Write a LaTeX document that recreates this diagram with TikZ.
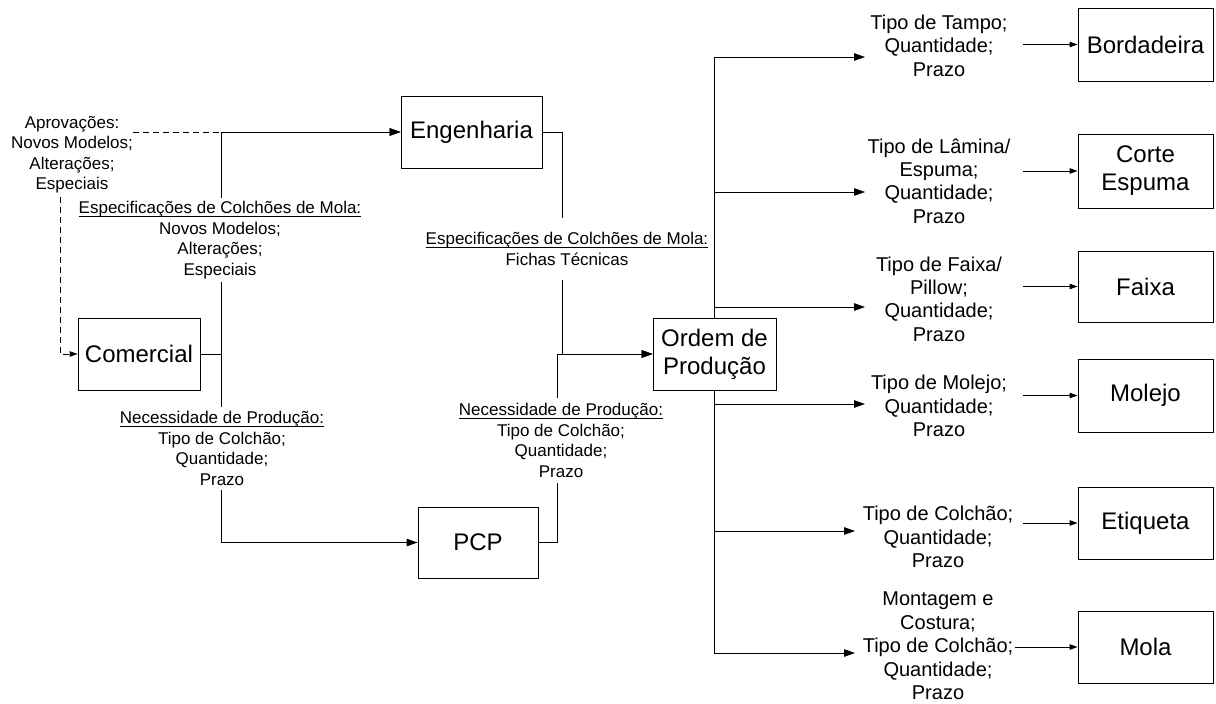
\documentclass[tikz,border=0pt]{standalone}
\usepackage{fontspec}
\setmainfont{Liberation Sans}
\usetikzlibrary{arrows.meta}
% underline set just below the baseline
\newcommand{\ulined}[1]{\setbox0\hbox{#1}\leavevmode\rlap{\rule[-3pt]{\wd0}{0.9pt}}\box0}
\begin{document}
\begin{tikzpicture}[x=1pt,y=-1pt,
  box/.style={draw=black, line width=0.9pt, fill=white, inner sep=0pt, align=center,
              font=\fontsize{24}{28}\selectfont},
  lab/.style={align=center, inner sep=0pt, fill=white, font=\fontsize{17}{20.5}\selectfont},
  rlab/.style={align=center, inner sep=0pt, font=\fontsize{20}{23.4}\selectfont},
  link/.style={line width=0.9pt},
  arr/.style={link, -{Triangle[length=11pt,width=7.5pt]}},
  sarr/.style={link, -{Triangle[length=8pt,width=5.5pt]}},
  dlink/.style={link, dash pattern=on 6pt off 4pt},
]
\useasboundingbox (0,0) rectangle (1216,704);

% departments on the left
\node[box, minimum width=141pt, minimum height=72pt] (eng) at (471.5,132) {Engenharia};
\node[box, minimum width=122pt, minimum height=72pt] (com) at (139,354) {Comercial};
\node[box, minimum width=120pt, minimum height=71pt] (pcp) at (478,542.5) {PCP};
\node[box, minimum width=123pt, minimum height=72pt] (op) at (714.5,354) {Ordem de\\Produção};

% sectors on the right
\node[box, minimum width=135pt, minimum height=73pt] (bor) at (1145.5,44.5) {Bordadeira};
\node[box, minimum width=135pt, minimum height=74pt] (cor) at (1145.5,171) {Corte\\Espuma};
\node[box, minimum width=135pt, minimum height=71pt] (fai) at (1145.5,286.5) {Faixa};
\node[box, minimum width=135pt, minimum height=73pt] (mol) at (1145.5,395.5) {Molejo};
\node[box, minimum width=135pt, minimum height=72pt] (eti) at (1145.5,523) {Etiqueta};
\node[box, minimum width=135pt, minimum height=72pt] (mla) at (1145.5,647) {Mola};

% approvals note
\node[lab, fill=none] (aprov) at (72,154.5) {Aprovações:\\Novos Modelos;\\Alterações;\\Especiais};

% order contents per sector
\node[rlab] (r1) at (939,45.5) {Tipo de Tampo;\\Quantidade;\\Prazo};
\node[rlab] (r2) at (939,181) {Tipo de Lâmina/\\Espuma;\\Quantidade;\\Prazo};
\node[rlab] (r3) at (939,299) {Tipo de Faixa/\\Pillow;\\Quantidade;\\Prazo};
\node[rlab] (r4) at (939,406) {Tipo de Molejo;\\Quantidade;\\Prazo};
\node[rlab] (r5) at (938,537) {Tipo de Colchão;\\Quantidade;\\Prazo};
\node[rlab] (r6) at (938,646) {Montagem e\\Costura;\\Tipo de Colchão;\\Quantidade;\\Prazo};

% arrow tips of the distribution bus
\coordinate (b1) at (865,57);
\coordinate (b2) at (865,192);
\coordinate (b3) at (865,307);
\coordinate (b4) at (865,404);
\coordinate (b5) at (855,531);
\coordinate (b6) at (855,653);

% starts of the short arrows into the sectors
\coordinate (s1) at (1023,44.5);
\coordinate (s2) at (1023,171);
\coordinate (s3) at (1023,286.5);
\coordinate (s4) at (1023,395.5);
\coordinate (s5) at (1023,523);
\coordinate (s6) at (1015,647);

% dashed approval paths
\coordinate (d0) at (60,197);
\draw[dlink, -{Triangle[length=11pt,width=7.5pt]}] (aprov.east |- eng.west) -- (eng.west);
\draw[dlink, -{Triangle[length=8pt,width=5.5pt]}] (d0) |- (com.west);

% information flow on the left
\draw[arr] (com.east) -- ++(21,0) |- (eng.west);
\draw[arr] (com.east) -- ++(21,0) |- (pcp.west);
\draw[arr] (eng.east) -- ++(20,0) |- (op.west);
\draw[arr] (pcp.east) -- ++(19,0) |- (op.west);

% distribution of the production order
\draw[arr] (op.north) |- (b1);
\draw[arr] (op.north) |- (b2);
\draw[arr] (op.north) |- (b3);
\draw[arr] (op.south) |- (b4);
\draw[arr] (op.south) |- (b5);
\draw[arr] (op.south) |- (b6);

\draw[sarr] (s1) -- (bor.west);
\draw[sarr] (s2) -- (cor.west);
\draw[sarr] (s3) -- (fai.west);
\draw[sarr] (s4) -- (mol.west);
\draw[sarr] (s5) -- (eti.west);
\draw[sarr] (s6) -- (mla.west);

% labels sitting on the connectors
\node[lab, minimum height=84pt] (espL) at (220,240)
  {\ulined{Especificações de Colchões de Mola:}\\Novos Modelos;\\Alterações;\\Especiais};
\node[lab, minimum height=83pt] (necL) at (222,448.5)
  {\ulined{Necessidade de Produção:}\\Tipo de Colchão;\\Quantidade;\\Prazo};
\node[lab, minimum height=62pt] (espM) at (567,249)
  {\ulined{Especificações de Colchões de Mola:}\\Fichas Técnicas};
\node[lab, minimum height=85pt] (necM) at (561,440.5)
  {\ulined{Necessidade de Produção:}\\Tipo de Colchão;\\Quantidade;\\Prazo};
\end{tikzpicture}
\end{document}
